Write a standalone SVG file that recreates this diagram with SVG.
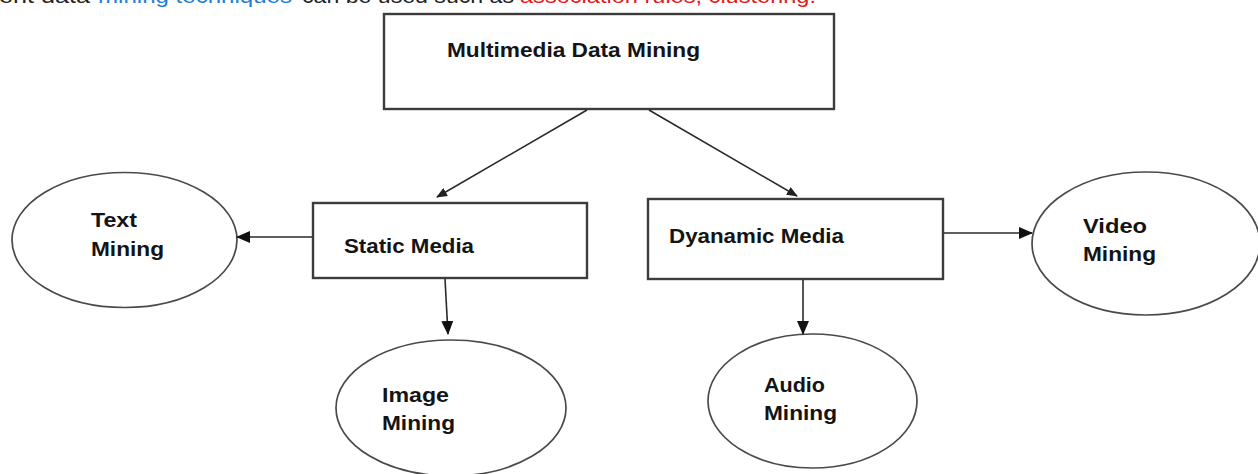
<svg xmlns="http://www.w3.org/2000/svg" width="1258" height="474" viewBox="0 0 1258 474">
  <style>
    .box { fill: #ffffff; stroke: #3c3c3c; stroke-width: 2.4; }
    .oval { fill: #ffffff; stroke: #4a4a4a; stroke-width: 1.7; }
    .lbl { font-family: "Liberation Sans", Arial, sans-serif; font-weight: bold; font-size: 20px; fill: #141414; }
    .edge { fill: none; stroke: #2a2a2a; stroke-width: 1.6; }
    .body { font-family: "Liberation Sans", Arial, sans-serif; font-size: 20px; }
  </style>
  <defs>
    <marker id="head" markerUnits="userSpaceOnUse" viewBox="0 0 14 12" refX="13" refY="6" markerWidth="14" markerHeight="12" orient="auto">
      <path d="M0,0 L14,6 L0,12 z" fill="#111"/>
    </marker>
    <marker id="headSmall" markerUnits="userSpaceOnUse" viewBox="0 0 11 9" refX="10" refY="4.5" markerWidth="11" markerHeight="9" orient="auto">
      <path d="M0,0 L11,4.5 L0,9 z" fill="#222"/>
    </marker>
  </defs>

  <rect width="1258" height="474" fill="#ffffff"/>

  <!-- running text line, mostly above the top edge -->
  <g id="caption" class="body">
    <text x="-1" y="3" fill="#222" textLength="91" lengthAdjust="spacingAndGlyphs">ent data</text>
    <text x="98" y="3" fill="#1e7fd6" textLength="194" lengthAdjust="spacingAndGlyphs">mining techniques</text>
    <text x="302" y="3" fill="#222" textLength="212" lengthAdjust="spacingAndGlyphs">can be used such as</text>
    <text x="520" y="3" fill="#e3191c" textLength="296" lengthAdjust="spacingAndGlyphs">association rules, clustering.</text>
  </g>

  <g id="multimedia-data-mining">
    <rect class="box" x="384" y="14" width="450" height="95"/>
    <text class="lbl" x="447" y="57" textLength="253" lengthAdjust="spacingAndGlyphs">Multimedia Data Mining</text>
  </g>

  <g id="static-media">
    <rect class="box" x="313" y="203" width="274" height="75"/>
    <text class="lbl" x="344" y="253" textLength="130" lengthAdjust="spacingAndGlyphs">Static Media</text>
  </g>

  <g id="dynamic-media">
    <rect class="box" x="648" y="199" width="295" height="80"/>
    <text class="lbl" x="669" y="243" textLength="175" lengthAdjust="spacingAndGlyphs">Dyanamic Media</text>
  </g>

  <g id="text-mining">
    <ellipse class="oval" cx="124.5" cy="240" rx="112.5" ry="67.5"/>
    <text class="lbl" x="91" y="227" textLength="46" lengthAdjust="spacingAndGlyphs">Text</text>
    <text class="lbl" x="91" y="256" textLength="73" lengthAdjust="spacingAndGlyphs">Mining</text>
  </g>

  <g id="image-mining">
    <ellipse class="oval" cx="451" cy="408" rx="115" ry="68"/>
    <text class="lbl" x="382" y="402" textLength="67" lengthAdjust="spacingAndGlyphs">Image</text>
    <text class="lbl" x="382" y="430" textLength="73" lengthAdjust="spacingAndGlyphs">Mining</text>
  </g>

  <g id="audio-mining">
    <ellipse class="oval" cx="812.5" cy="401" rx="104.5" ry="67"/>
    <text class="lbl" x="764" y="392" textLength="61" lengthAdjust="spacingAndGlyphs">Audio</text>
    <text class="lbl" x="764" y="420" textLength="73" lengthAdjust="spacingAndGlyphs">Mining</text>
  </g>

  <g id="video-mining">
    <ellipse class="oval" cx="1146" cy="243.5" rx="114" ry="71.5"/>
    <text class="lbl" x="1083" y="233" textLength="64" lengthAdjust="spacingAndGlyphs">Video</text>
    <text class="lbl" x="1083" y="261" textLength="73" lengthAdjust="spacingAndGlyphs">Mining</text>
  </g>

  <g id="connectors">
    <line class="edge" x1="587" y1="110" x2="437" y2="197" marker-end="url(#headSmall)"/>
    <line class="edge" x1="649" y1="110" x2="797" y2="196" marker-end="url(#headSmall)"/>
    <line class="edge" x1="312" y1="237" x2="237" y2="237" marker-end="url(#head)"/>
    <line class="edge" x1="445" y1="279" x2="448" y2="334" marker-end="url(#head)"/>
    <line class="edge" x1="944" y1="233" x2="1032" y2="233" marker-end="url(#head)"/>
    <line class="edge" x1="803" y1="280" x2="803" y2="334" marker-end="url(#head)"/>
  </g>
</svg>
